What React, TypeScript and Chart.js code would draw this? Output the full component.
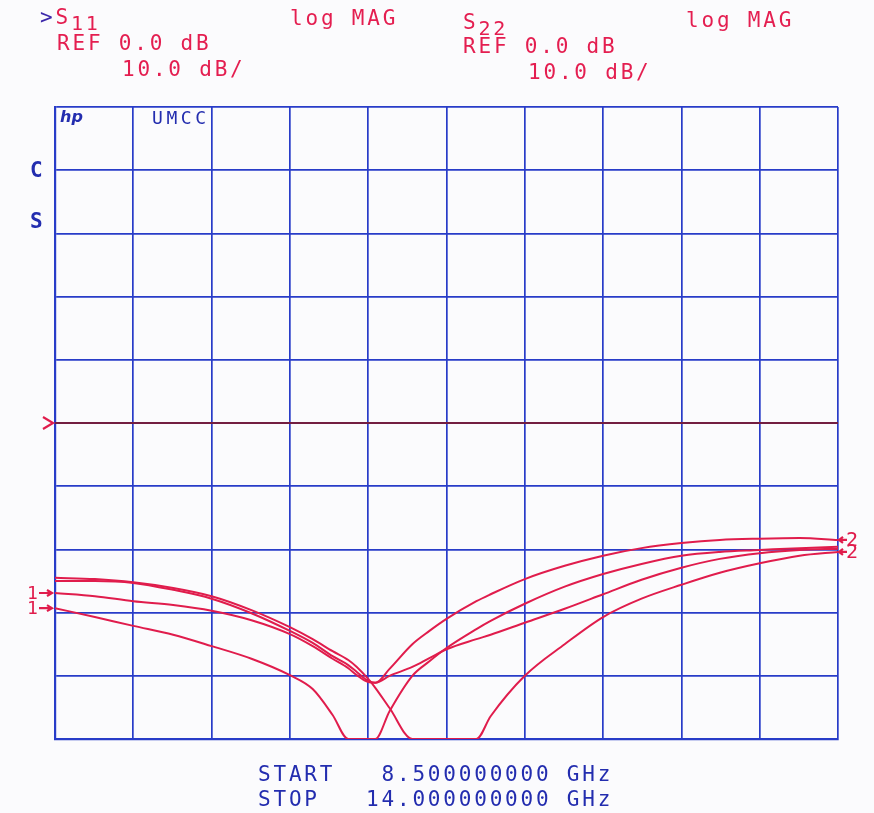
import React, { useEffect, useRef } from "react";
import { Chart, registerables } from "chart.js";

Chart.register(...registerables);

// Frequency sweep points (GHz)
const freqGHz = [
  8.5, 8.78, 9.05, 9.33, 9.6, 9.88, 10.15, 10.31, 10.45, 10.56, 10.62, 10.7, 10.75, 10.85,
  11.01, 11.13, 11.25, 11.46, 11.56, 11.8, 12.08, 12.35, 12.62, 12.9, 13.17, 13.45, 13.73, 14.0,
];

// Trace magnitudes (dB); values below -50 dB are clipped at the screen bottom
const traceA = [
  -24.5, -24.7, -25.2, -26.1, -27.4, -29.6, -32.3, -34.2, -36.1, -37.5, -38.6, -40.5, -41.9, -45.1,
  -50, -50, -50, -50, -46.4, -40.0, -35.0, -30.7, -27.8, -25.6, -23.7, -22.2, -21.0, -20.4,
];
const traceB = [
  -25.0, -25.0, -25.3, -26.4, -27.8, -30.1, -32.9, -34.8, -36.9, -38.3, -39.4, -40.8, -41.1, -38.9,
  -35.0, -32.9, -31.0, -28.2, -27.1, -24.7, -22.6, -21.0, -19.8, -19.0, -18.5, -18.3, -18.2, -18.5,
];
const traceC = [
  -26.9, -27.4, -28.2, -28.8, -29.7, -31.2, -33.4, -35.3, -37.3, -38.8, -39.9, -41.0, -41.1, -40.0,
  -38.6, -37.2, -35.8, -34.2, -33.5, -31.6, -29.4, -27.1, -24.8, -22.9, -21.5, -20.6, -20.1, -19.9,
];
const traceD = [
  -29.3, -30.7, -32.1, -33.5, -35.3, -37.3, -39.9, -42.1, -46.2, -50, -50, -50, -50, -45.6,
  -40.0, -37.7, -35.6, -32.6, -31.3, -28.6, -25.9, -23.9, -22.3, -21.0, -20.4, -20.1, -19.8, -19.6,
];
const refLevelDb = 0;

const xStart = 8.5;
const xStop = 14.0;
const xTicks = [8.5, 9.05, 9.6, 10.15, 10.7, 11.25, 11.8, 12.35, 12.9, 13.45, 14.0];
const yTicks = [-50, -40, -30, -20, -10, 0, 10, 20, 30, 40, 50];

const RED = "rgb(224, 28, 76)";
const TEXT_RED = "rgb(228, 30, 80)";
const GRID_BLUE = "rgb(40, 60, 200)";
const TEXT_BLUE = "rgb(35, 45, 175)";

const mono = "'DejaVu Sans Mono', 'Liberation Mono', monospace";

const markerPlugin = {
  id: "vnaMarkers",
  afterDatasetsDraw(chart: any) {
    const { ctx, chartArea, scales } = chart;
    const ys = scales.y;
    ctx.save();
    ctx.strokeStyle = RED;
    ctx.fillStyle = RED;
    ctx.lineWidth = 2.2;
    // reference marker ">"
    const yr = ys.getPixelForValue(refLevelDb);
    ctx.beginPath();
    ctx.moveTo(chartArea.left - 12, yr - 6);
    ctx.lineTo(chartArea.left - 2, yr);
    ctx.lineTo(chartArea.left - 12, yr + 6);
    ctx.stroke();
    ctx.textBaseline = "middle";
    // left "1->" markers
    ctx.font = "18px 'DejaVu Sans Mono', monospace";
    [traceC[0], traceD[0]].forEach((v) => {
      const y = ys.getPixelForValue(v);
      ctx.fillText("1", chartArea.left - 28, y + 1);
      ctx.beginPath();
      ctx.moveTo(chartArea.left - 16, y);
      ctx.lineTo(chartArea.left - 3, y);
      ctx.moveTo(chartArea.left - 8, y - 3);
      ctx.lineTo(chartArea.left - 3, y);
      ctx.lineTo(chartArea.left - 8, y + 3);
      ctx.stroke();
    });
    // right "<-2" markers
    ctx.font = "20px 'DejaVu Sans Mono', monospace";
    [traceB[traceB.length - 1], traceA[traceA.length - 1]].forEach((v) => {
      const y = ys.getPixelForValue(v);
      ctx.beginPath();
      ctx.moveTo(chartArea.right + 9, y);
      ctx.lineTo(chartArea.right + 1, y);
      ctx.moveTo(chartArea.right + 5, y - 3);
      ctx.lineTo(chartArea.right + 1, y);
      ctx.lineTo(chartArea.right + 5, y + 3);
      ctx.stroke();
      ctx.fillText("2", chartArea.right + 8, y + 1);
    });
    ctx.restore();
  },
};

const bgPlugin = {
  id: "paperBg",
  beforeDraw(chart: any) {
    const { ctx, width, height } = chart;
    ctx.save();
    ctx.fillStyle = "#fbfbfd";
    ctx.fillRect(0, 0, width, height);
    ctx.restore();
  },
};

function toPoints(vals: number[]) {
  return freqGHz.map((f, i) => ({ x: f, y: vals[i] }));
}

const textBase: React.CSSProperties = {
  position: "absolute",
  fontFamily: mono,
  fontSize: "21px",
  lineHeight: "20px",
  letterSpacing: "2.8px",
  whiteSpace: "pre",
  color: TEXT_RED,
};

export default function App() {
  const canvasRef = useRef<HTMLCanvasElement | null>(null);

  useEffect(() => {
    document.body.style.margin = "0";
    const canvas = canvasRef.current;
    if (!canvas) return;
    const traceStyle = {
      borderColor: RED,
      backgroundColor: RED,
      borderWidth: 2,
      pointRadius: 0,
      fill: false,
      cubicInterpolationMode: "monotone" as const,
    };
    const chart = new Chart(canvas, {
      type: "line",
      data: {
        datasets: [
          {
            label: "REF",
            data: [
              { x: xStart, y: refLevelDb },
              { x: xStop, y: refLevelDb },
            ],
            borderColor: "rgb(115, 30, 65)",
            borderWidth: 2,
            pointRadius: 0,
          },
          { label: "A", data: toPoints(traceA), ...traceStyle },
          { label: "B", data: toPoints(traceB), ...traceStyle },
          { label: "C", data: toPoints(traceC), ...traceStyle },
          { label: "D", data: toPoints(traceD), ...traceStyle },
        ],
      },
      options: {
        animation: false,
        responsive: false,
        maintainAspectRatio: false,
        layout: { padding: { left: 55, right: 36, top: 107, bottom: 74 } },
        plugins: {
          legend: { display: false },
          tooltip: { enabled: false },
          title: { display: false },
        },
        scales: {
          x: {
            type: "linear",
            min: xStart,
            max: xStop,
            afterBuildTicks: (s: any) => {
              s.ticks = xTicks.map((v) => ({ value: v }));
            },
            ticks: { display: false },
            grid: { color: GRID_BLUE, lineWidth: 1.7, drawTicks: false },
            border: { display: true, color: GRID_BLUE, width: 2.2 },
          },
          y: {
            type: "linear",
            min: -50,
            max: 50,
            afterBuildTicks: (s: any) => {
              s.ticks = yTicks.map((v) => ({ value: v }));
            },
            ticks: { display: false },
            grid: { color: GRID_BLUE, lineWidth: 1.7, drawTicks: false },
            border: { display: true, color: GRID_BLUE, width: 2.2 },
          },
        },
      },
      plugins: [bgPlugin, markerPlugin],
    });
    return () => chart.destroy();
  }, []);

  return (
    <div style={{ position: "relative", width: 874, height: 813, background: "#fbfbfd", overflow: "hidden" }}>
      <canvas ref={canvasRef} width={874} height={813} style={{ width: 874, height: 813, display: "block" }} />
      {/* header, channel 1 */}
      <div style={{ ...textBase, left: 40, top: 7 }}>
        <span style={{ color: "rgb(60, 40, 170)" }}>{">"}</span>S
        <span style={{ position: "relative", top: 6, fontSize: "20px" }}>11</span>
      </div>
      <div style={{ ...textBase, left: 290, top: 8 }}>log MAG</div>
      <div style={{ ...textBase, left: 57, top: 33 }}>REF 0.0 dB</div>
      <div style={{ ...textBase, left: 122, top: 59 }}>10.0 dB/</div>
      {/* header, channel 2 */}
      <div style={{ ...textBase, left: 463, top: 12 }}>
        S<span style={{ position: "relative", top: 6, fontSize: "20px" }}>22</span>
      </div>
      <div style={{ ...textBase, left: 686, top: 10 }}>log MAG</div>
      <div style={{ ...textBase, left: 463, top: 36 }}>REF 0.0 dB</div>
      <div style={{ ...textBase, left: 528, top: 62 }}>10.0 dB/</div>
      {/* side letters */}
      <div style={{ ...textBase, left: 30, top: 160, color: TEXT_BLUE, fontWeight: "bold" }}>C</div>
      <div style={{ ...textBase, left: 30, top: 211, color: TEXT_BLUE, fontWeight: "bold" }}>S</div>
      {/* inside labels */}
      <div
        style={{
          position: "absolute",
          left: 60,
          top: 107,
          fontFamily: "'DejaVu Sans', sans-serif",
          fontStyle: "italic",
          fontWeight: "bold",
          fontSize: "16px",
          color: TEXT_BLUE,
        }}
      >
        hp
      </div>
      <div style={{ ...textBase, left: 152, top: 108, fontSize: "18px", letterSpacing: "3.6px", color: TEXT_BLUE }}>UMCC</div>
      {/* footer */}
      <div style={{ ...textBase, left: 258, top: 764, color: TEXT_BLUE }}>START   8.500000000 GHz</div>
      <div style={{ ...textBase, left: 258, top: 789, color: TEXT_BLUE }}>STOP   14.000000000 GHz</div>
    </div>
  );
}
